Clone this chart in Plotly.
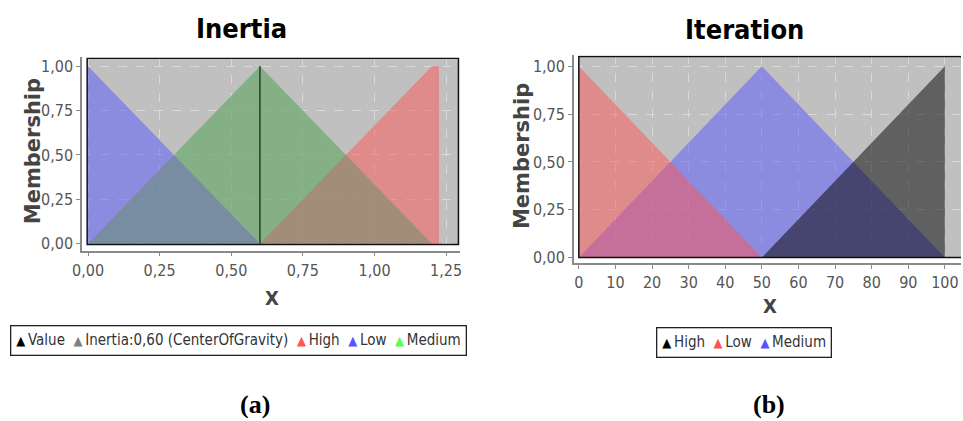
import plotly.graph_objects as go

W, H = 963, 421

# ---- Data: Inertia (a) ----
inertia_low_x = [0, 0, 0.6]
inertia_low_y = [0, 1, 0]
inertia_medium_x = [0, 0.6, 1.2]
inertia_medium_y = [0, 1, 0]
inertia_high_x = [0.6, 1.2, 1.225, 1.225]
inertia_high_y = [0, 1, 1, 0]
inertia_cog_x = [0, 0.6, 1.2]
inertia_cog_y = [0, 1, 0]
inertia_value = 0.6
inertia_ticks = [0, 0.25, 0.5, 0.75, 1.0, 1.25]

# ---- Data: Iteration (b) ----
iter_low_x = [0, 0, 50]
iter_low_y = [0, 1, 0]
iter_medium_x = [0, 50, 100]
iter_medium_y = [0, 1, 0]
iter_high_x = [50, 100, 100]
iter_high_y = [0, 1, 0]
iter_ticks = [0, 10, 20, 30, 40, 50, 60, 70, 80, 90, 100]
member_ticks = [0, 0.25, 0.5, 0.75, 1.0]

RED = "rgba(255,85,85,0.5)"
BLUE = "rgba(85,85,255,0.5)"
GREEN = "rgba(85,255,85,0.5)"
GRAY = "rgba(128,128,128,0.5)"
BLACK = "rgba(0,0,0,0.5)"

TICKFONT = dict(family="DejaVu Sans Condensed, DejaVu Sans, sans-serif", size=16, color="#555555")
TITLEFONT = "DejaVu Sans Condensed, DejaVu Sans, sans-serif"

fig = go.Figure()

def poly(x, y, color, xa, ya):
    fig.add_trace(go.Scatter(x=x, y=y, fill="toself", fillcolor=color, mode="lines",
                             line=dict(width=0, color=color), hoverinfo="skip",
                             showlegend=False, xaxis=xa, yaxis=ya))

# left chart, drawing order: Medium, Low, High, aggregated (gray)
poly(inertia_medium_x, inertia_medium_y, GREEN, "x", "y")
poly(inertia_low_x, inertia_low_y, BLUE, "x", "y")
poly(inertia_high_x, inertia_high_y, RED, "x", "y")
poly(inertia_cog_x, inertia_cog_y, GRAY, "x", "y")
fig.add_trace(go.Scatter(x=[inertia_value, inertia_value], y=[0, 1], mode="lines",
                         line=dict(color="#2a3a2a", width=1.5), showlegend=False,
                         hoverinfo="skip", xaxis="x", yaxis="y"))

# right chart: Medium, High, Low
poly(iter_medium_x, iter_medium_y, BLUE, "x2", "y2")
poly(iter_high_x, iter_high_y, BLACK, "x2", "y2")
poly(iter_low_x, iter_low_y, RED, "x2", "y2")

def px_x(p):
    return p / W

def px_y(p):
    return 1 - p / H

common_axis = dict(showline=True, linecolor="#8a8a8a", linewidth=1.5, ticks="outside",
                   ticklen=4, tickcolor="#8a8a8a", tickfont=TICKFONT, zeroline=False,
                   showgrid=True, gridcolor="rgba(255,255,255,0.4)", griddash="dash",
                   gridwidth=1, fixedrange=True)

fig.update_layout(
    width=W, height=H, margin=dict(l=0, r=0, t=0, b=0),
    paper_bgcolor="white", plot_bgcolor="white", separators=",.",
    showlegend=False,
    xaxis=dict(common_axis, domain=[px_x(73), px_x(456)], range=[-0.0207, 1.2995],
               tickvals=inertia_ticks, tickformat=".2f", anchor="y"),
    yaxis=dict(common_axis, domain=[px_y(253), px_y(58)], range=[-0.039, 1.050],
               tickvals=member_ticks, tickformat=".2f", anchor="x"),
    xaxis2=dict(common_axis, domain=[px_x(571), 1.0], range=[-1.35, 104.4],
                tickvals=iter_ticks, tickformat="d", anchor="y2"),
    yaxis2=dict(common_axis, domain=[px_y(266), px_y(56)], range=[-0.031, 1.057],
                tickvals=member_ticks, tickformat=".2f", anchor="x2"),
)

# plot area backgrounds and borders
fig.add_shape(type="rect", xref="x", yref="y", x0=-0.003, x1=1.293, y0=-0.005, y1=1.045,
              fillcolor="#c0c0c0", line=dict(width=0), layer="below")
fig.add_shape(type="rect", xref="x", yref="y", x0=-0.003, x1=1.293, y0=-0.005, y1=1.045,
              fillcolor="rgba(0,0,0,0)", line=dict(width=1.5, color="#111111"), layer="above")
fig.add_shape(type="rect", xref="x2", yref="y2", x0=0, x1=110, y0=0, y1=1.052,
              fillcolor="#c0c0c0", line=dict(width=0), layer="below")
fig.add_shape(type="rect", xref="x2", yref="y2", x0=0, x1=110, y0=0, y1=1.052,
              fillcolor="rgba(0,0,0,0)", line=dict(width=1.5, color="#111111"), layer="above")

def ann(text, x, y, font, textangle=0, **kw):
    fig.add_annotation(text=text, x=px_x(x), y=px_y(y), xref="paper", yref="paper",
                       showarrow=False, font=font, textangle=textangle,
                       xanchor="center", yanchor="middle", **kw)

# titles
ann("<b>Inertia</b>", 234, 29, dict(family=TITLEFONT, size=27, color="black"))
ann("<b>Iteration</b>", 744, 30, dict(family=TITLEFONT, size=27, color="black"))

# axis titles
AXT = dict(family="DejaVu Sans, sans-serif", size=21, color="#444444")
ann("<b>Membership</b>", 23, 153, AXT, textangle=-90)
ann("<b>Membership</b>", 519, 158, AXT, textangle=-90)
ann("<b>X</b>", 265, 301, dict(family="DejaVu Sans Condensed, DejaVu Sans, sans-serif", size=20, color="#444444"))
ann("<b>X</b>", 770, 309, dict(family="DejaVu Sans Condensed, DejaVu Sans, sans-serif", size=20, color="#444444"))

# legends (built as rich text)
legend_a = [("Value", "#000000"), ("Inertia:0,60 (CenterOfGravity)", "#808080"),
            ("High", "#ff5555"), ("Low", "#5555ff"), ("Medium", "#55ff55")]
legend_b = [("High", "#000000"), ("Low", "#ff5555"), ("Medium", "#5555ff")]

def legend_text(items):
    return "\u00a0\u00a0".join(
        f'<span style="color:{c}; font-size:13px">▲</span>\u2009{t}' for t, c in items)

LEGFONT = dict(family="DejaVu Sans Condensed, DejaVu Sans, sans-serif", size=15, color="#333333")
ann(legend_text(legend_a), 231, 343.5, LEGFONT, bordercolor="#222222", borderwidth=1.3,
    borderpad=5, bgcolor="white")
ann(legend_text(legend_b), 743, 346, LEGFONT, bordercolor="#222222", borderwidth=1.3,
    borderpad=5, bgcolor="white")

# captions
CAP = dict(family="Liberation Serif, DejaVu Serif, serif", size=26, color="black")
ann("<b>(a)</b>", 248, 408, CAP)
ann("<b>(b)</b>", 769, 408, CAP)

fig.write_html("out.html")
